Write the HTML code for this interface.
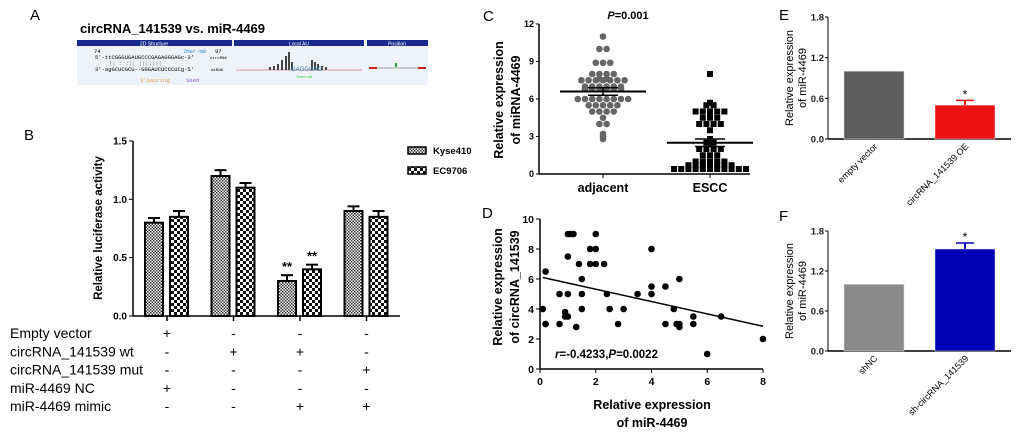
<!DOCTYPE html>
<html><head><meta charset="utf-8"><style>
body{margin:0;background:#fff;}
svg{display:block;font-family:"Liberation Sans",Arial,sans-serif;}
.b{font-weight:bold;}
</style></head><body>
<svg width="1020" height="432" viewBox="0 0 1020 432">
<defs>
<pattern id="pk" width="3" height="3" patternUnits="userSpaceOnUse"><rect width="3" height="3" fill="#fff"/><rect width="1.5" height="1.5" fill="#333"/><rect x="1.5" y="1.5" width="1.5" height="1.5" fill="#333"/></pattern>
<pattern id="pe" width="6" height="6" patternUnits="userSpaceOnUse"><rect width="6" height="6" fill="#fff"/><rect width="3" height="3" fill="#111"/><rect x="3" y="3" width="3" height="3" fill="#111"/></pattern>
</defs>

<g>
<text x="30" y="20" font-size="15">A</text>
<text x="80" y="33" font-size="13" class="b">circRNA_141539 vs. miR-4469</text>
<rect x="77" y="40" width="351" height="45" fill="#eef3fa"/>
<rect x="77" y="40" width="155" height="6" fill="#1a2a8c"/><rect x="234" y="40" width="130" height="6" fill="#1a2a8c"/><rect x="367" y="40" width="61" height="6" fill="#1a2a8c"/>
<text x="154" y="45.5" font-size="5" fill="#fff" text-anchor="middle">2D Structure</text>
<text x="299" y="45.5" font-size="5" fill="#fff" text-anchor="middle">Local AU</text>
<text x="397" y="45.5" font-size="5" fill="#fff" text-anchor="middle">Position</text>
<g font-family="Liberation Mono,monospace" font-size="5.5">
<text x="94" y="53">74</text><text x="183" y="53" fill="#3a8ac8">7mer-m8</text><text x="215" y="53">97</text>
<text x="95" y="59">5'-ttCGGGUGAUGCCCGAGAGGGAGc-3'</text><text x="210" y="59" font-size="4">circRNA</text>
<text x="109" y="65" fill="#888">|| : :||  |||||||</text>
<text x="95" y="71">3'-agGCUCGCU--GGGAUCUCCCUCg-5'</text><text x="211" y="71" font-size="4">miRNA</text>
<text x="140" y="82" fill="#d9a040">3'pairing</text><text x="186" y="82" fill="#8a5ac8">Seed</text>
</g>
<line x1="236" y1="70" x2="362" y2="70" stroke="#d99" stroke-width="1"/>
<path d="M270 70 V67 M274 70 V66 M278 70 V64 M282 70 V60 M286 70 V56 M289 70 V52 M292 70 V62 M312 70 V60 M315 70 V62 M318 70 V64 M322 70 V66 M326 70 V67" stroke="#444" stroke-width="2"/>
<text x="291" y="71" font-size="6" fill="#3a8ac8">GAGGGAG</text>
<text x="296" y="78" font-size="4" fill="#3c3">7mer-m8</text>
<line x1="369" y1="68" x2="426" y2="68" stroke="#bbb" stroke-width="1.5"/>
<rect x="369" y="67" width="8" height="2" fill="#c22"/><rect x="418" y="67" width="8" height="2" fill="#c22"/>
<rect x="395" y="63" width="2" height="4" fill="#2a2"/>
</g>

<g>
<text x="24" y="140" font-size="15">B</text>
<g id="b-chart"></g>
</g>

<g>
<text x="483" y="21" font-size="15">C</text>
<text x="628" y="19" font-size="11" class="b" text-anchor="middle"><tspan font-style="italic">P</tspan>=0.001</text>
<g id="c-chart"></g>
</g>

<g>
<text x="482" y="218" font-size="15">D</text>
<g id="d-chart"></g>
</g>

<g>
<text x="779" y="20" font-size="15">E</text>
<g id="e-chart"></g>
</g>

<g>
<text x="779" y="221" font-size="15">F</text>
<g id="f-chart"></g>
</g>
</svg>
<script>
const NS="http://www.w3.org/2000/svg";
function mk(p,tag,a,txt){const e=document.createElementNS(NS,tag);for(const k in a)e.setAttribute(k,a[k]);if(txt!==undefined)e.textContent=txt;p.appendChild(e);return e;}

const bGroups=["g1","g2","g3","g4"];
const bKyse=[0.80,1.20,0.30,0.90];
const bKyseErr=[0.04,0.05,0.05,0.04];
const bEC=[0.85,1.10,0.40,0.85];
const bECErr=[0.05,0.04,0.04,0.05];
const bSig=["","","**",""];
const bTicks=[0,0.5,1.0,1.5];
const bRowLabels=["Empty vector","circRNA_141539 wt","circRNA_141539 mut","miR-4469 NC","miR-4469 mimic"];
const bSigns=[["+","-","-","-"],["-","+","+","-"],["-","-","-","+"],["+","-","-","-"],["-","-","+","+"]];

const cCats=["adjacent","ESCC"];
const cAdj=[11,10,10,8.9,8.9,8.9,8,8,8,8,7.6,7.5,7.5,7.5,7.5,7.5,7.5,7.5,7.6,7,7,7,7,7,7,6.8,6.8,6.8,6.8,6.8,6.8,6,6,6,6,6,6,6,6,5.5,5.5,5.5,5.5,5.5,5,5,5,5,4.5,4,4,3.2,3,2.8];
const cESCC=[8,5.7,5.5,5.5,5,5,5,5,5,4.8,4.5,4.5,4.5,4,4,4,4,3.5,2.8,2.5,2.5,2,2,2,2,1.5,1.5,1.5,1,1,1,1,1,0.7,0.7,0.7,0.7,0.7,0.7,0.7,0.4,0.4,0.4,0.4,0.4,0.4,0.4,0.4,0.4,0.4,0.4];
const cMeans=[6.6,2.5];
const cSem=[0.3,0.3];
const cTicks=[0,3,6,9,12];

const dX=[0.1,0.2,0.2,0.2,0.7,0.7,0.9,0.9,1,1,1.1,1.2,1,1,1.3,1.4,1.5,1.5,1.5,1.8,1.8,2,2,2,2.3,2.4,2.5,2.8,3,3.5,4,4,4,4.5,4.5,4.8,4.9,5,5,5,5.5,5.5,6,6.5,8];
const dY=[4,3,3,6.5,5,3,3.5,3.8,3.5,9,9,9,7.5,5,2.8,7,6,5,4,8,7,8,9,7,7,5,4,3,4,5,8,5.5,5,5.5,3,4,3,3,2.8,6,3.5,3,1,3.5,2];
const dFit=[[0.1,6.1],[8,2.85]];
const dXTicks=[0,2,4,6,8];
const dYTicks=[0,2,4,6,8,10];

const eCats=["empty vector","circRNA_141539 OE"];
const eVals=[1.0,0.5];
const eErr=[0,0.07];
const fCats=["shNC","sh-circRNA_141539"];
const fVals=[1.0,1.53];
const fErr=[0,0.09];
const efTicks=[0,0.6,1.2,1.8];

(function(){
const g=document.getElementById('b-chart');
const y0=316,y1=141,xL=133,xR=400;
const sy=v=>y0-(v/1.5)*(y0-y1);
const cx=i=>167+i*66.5;
mk(g,'line',{x1:xL,y1:y1,x2:xL,y2:y0,stroke:'#000','stroke-width':1.5});
mk(g,'line',{x1:xL,y1:y0,x2:xR,y2:y0,stroke:'#000','stroke-width':1.5});
bTicks.forEach(t=>{mk(g,'line',{x1:xL-4,y1:sy(t),x2:xL,y2:sy(t),stroke:'#000'});
 const tx=mk(g,'text',{x:xL-6,y:sy(t)+3.5,'font-size':10,'text-anchor':'end','class':'b'},t.toFixed(1));
 });
const yt=mk(g,'text',{x:102,y:228,'font-size':11.5,'text-anchor':'middle','class':'b',transform:'rotate(-90 102 228)'},'Relative luciferase activity');

bGroups.forEach((k,i)=>{
 mk(g,'line',{x1:cx(i),y1:y0,x2:cx(i),y2:y0+5,stroke:'#000','stroke-width':1.5});
 [[bKyse,bKyseErr,'url(#pk)',-13],[bEC,bECErr,'url(#pe)',12]].forEach(([vals,errs,fill,off],s)=>{
  const x=cx(i)+off-9,w=18,v=vals[i];
  mk(g,'line',{x1:x+w/2,y1:sy(v),x2:x+w/2,y2:sy(v+errs[i]),stroke:'#000','stroke-width':2});
  mk(g,'line',{x1:x+3,y1:sy(v+errs[i]),x2:x+w-3,y2:sy(v+errs[i]),stroke:'#000','stroke-width':2});
  const r=mk(g,'rect',{x:x,y:sy(v),width:w,height:y0-sy(v),fill:fill,stroke:'#000','stroke-width':2});
  
  if(bSig[i]){const st=mk(g,'text',{x:x+w/2,y:sy(v+errs[i])-4,'font-size':13,'text-anchor':'middle','class':'b'},bSig[i]);
   }
 });
});
[['url(#pk)','Kyse410',150],['url(#pe)','EC9706',170]].forEach(([f,l,y])=>{
 const le=mk(g,'g',{});
 mk(le,'rect',{x:408,y:y-3,width:18,height:7,fill:f,stroke:'#000','stroke-width':1.5});
 mk(le,'text',{x:433,y:y+4,'font-size':9.5,'class':'b'},l);
});
bRowLabels.forEach((lab,r)=>{
 const y=338+r*18.3;
 const t=mk(g,'text',{x:10,y:y,'font-size':14},lab);
 
 bSigns[r].forEach((s,i)=>{const st=mk(g,'text',{x:cx(i),y:y,'font-size':14,'text-anchor':'middle'},s);
  });
});
})();

(function(){
const g=document.getElementById('c-chart');
const xL=539,xR=750,y0=174,y1=24;
const sy=v=>y0-(v/12)*(y0-y1);
const cxs=[603,710];
mk(g,'line',{x1:xL,y1:y1,x2:xL,y2:y0,stroke:'#000','stroke-width':1.5});
mk(g,'line',{x1:xL,y1:y0,x2:xR,y2:y0,stroke:'#000','stroke-width':1.5});
cTicks.forEach(t=>{mk(g,'line',{x1:xL-3,y1:sy(t),x2:xL,y2:sy(t),stroke:'#000'});
 const tx=mk(g,'text',{x:xL-5,y:sy(t)+3,'font-size':9,'text-anchor':'end','class':'b'},t);
 });
const yt=mk(g,'text',{x:0,y:0,'font-size':12.5,'text-anchor':'middle','class':'b',transform:'translate(513 100) rotate(-90)'});

mk(yt,'tspan',{x:0,dy:-10},'Relative expression');mk(yt,'tspan',{x:0,dy:17},'of miRNA-4469');
cCats.forEach((c,i)=>{mk(g,'line',{x1:cxs[i],y1:y0,x2:cxs[i],y2:y0+4,stroke:'#000'});
 const t=mk(g,'text',{x:cxs[i],y:192,'font-size':12.5,'text-anchor':'middle','class':'b'},c);
 });
function swarm(vals,cx,shape,fill,name){
 const groups={};vals.forEach(v=>{const k=String(v);(groups[k]=groups[k]||[]).push(v);});
 Object.values(groups).forEach(arr=>{
  const sp=Math.min(7.2,84/Math.max(1,arr.length-1));
  arr.forEach((v,j)=>{
  const x=cx+(j-(arr.length-1)/2)*sp;
  let el;
  if(shape==='c')el=mk(g,'circle',{cx:x,cy:sy(v),r:3.3,fill:fill});
  else el=mk(g,'rect',{x:x-3,y:sy(v)-3,width:6,height:6,fill:fill});
  });});
}
swarm(cAdj,cxs[0],'c','#666','point-adjacent');
swarm(cESCC,cxs[1],'s','#000','point-escc');
cMeans.forEach((m,i)=>{
 const ml=mk(g,'line',{x1:cxs[i]-43,y1:sy(m),x2:cxs[i]+43,y2:sy(m),stroke:'#000','stroke-width':2});
 
 mk(g,'line',{x1:cxs[i]-15,y1:sy(m+cSem[i]),x2:cxs[i]+15,y2:sy(m+cSem[i]),stroke:'#000','stroke-width':1.5});
 mk(g,'line',{x1:cxs[i]-15,y1:sy(m-cSem[i]),x2:cxs[i]+15,y2:sy(m-cSem[i]),stroke:'#000','stroke-width':1.5});
 mk(g,'line',{x1:cxs[i],y1:sy(m+cSem[i]),x2:cxs[i],y2:sy(m-cSem[i]),stroke:'#000','stroke-width':1.5});
});
})();

(function(){
const g=document.getElementById('d-chart');
const xL=540,xR=763,y0=369,y1=219;
const sx=v=>xL+(v/8)*(xR-xL), sy=v=>y0-(v/10)*(y0-y1);
mk(g,'line',{x1:xL,y1:y1,x2:xL,y2:y0,stroke:'#000','stroke-width':1.5});
mk(g,'line',{x1:xL,y1:y0,x2:xR,y2:y0,stroke:'#000','stroke-width':1.5});
dYTicks.forEach(t=>{mk(g,'line',{x1:xL-4,y1:sy(t),x2:xL,y2:sy(t),stroke:'#000'});
 const tx=mk(g,'text',{x:xL-6,y:sy(t)+4,'font-size':10.5,'text-anchor':'end','class':'b'},t);
 });
dXTicks.forEach(t=>{mk(g,'line',{x1:sx(t),y1:y0,x2:sx(t),y2:y0+4,stroke:'#000'});
 const tx=mk(g,'text',{x:sx(t),y:y0+16,'font-size':10.5,'text-anchor':'middle','class':'b'},t);
 });
const yt=mk(g,'text',{x:0,y:0,'font-size':12.5,'text-anchor':'middle','class':'b',transform:'translate(512 287) rotate(-90)'});

mk(yt,'tspan',{x:0,dy:-10},'Relative expression');mk(yt,'tspan',{x:0,dy:17},'of circRNA_141539');
const xt=mk(g,'text',{x:0,y:0,'font-size':12.5,'text-anchor':'middle','class':'b',transform:'translate(652 409)'});

mk(xt,'tspan',{x:0,dy:0},'Relative expression');mk(xt,'tspan',{x:0,dy:18},'of miR-4469');
const fl=mk(g,'line',{x1:sx(dFit[0][0]),y1:sy(dFit[0][1]),x2:sx(dFit[1][0]),y2:sy(dFit[1][1]),stroke:'#000','stroke-width':1.5});

dX.forEach((x,i)=>{const c=mk(g,'circle',{cx:sx(x),cy:sy(dY[i]),r:3.3,fill:'#000'});
 });
const rt=mk(g,'text',{x:555,y:358,'font-size':11.5,'class':'b'});

mk(rt,'tspan',{'font-style':'italic'},'r');mk(rt,'tspan',{},'=-0.4233,');mk(rt,'tspan',{'font-style':'italic'},'P');mk(rt,'tspan',{},'=0.0022');
})();

function barPanel(id,cats,vals,errs,colors,y0,y1,pfx){
 const g=document.getElementById(id);
 const xL=828,xR=1011;
 const sy=v=>y0-(v/1.8)*(y0-y1);
 const bx=[844,935],w=60;
 mk(g,'line',{x1:xL,y1:y1,x2:xL,y2:y0,stroke:'#000','stroke-width':1});
 mk(g,'line',{x1:xL,y1:y0,x2:xR,y2:y0,stroke:'#000','stroke-width':1.5});
 efTicks.forEach(t=>{mk(g,'line',{x1:xL-3,y1:sy(t),x2:xL,y2:sy(t),stroke:'#000'});
  const tx=mk(g,'text',{x:xL-4,y:sy(t)+3.5,'font-size':9.5,'text-anchor':'end','class':'b','fill':'#222'},t.toFixed(1));
  });
 const ym=(y0+y1)/2;
 const yt=mk(g,'text',{x:0,y:0,'font-size':11,'text-anchor':'middle',transform:'translate(799 '+ym+') rotate(-90)'});
 
 mk(yt,'tspan',{x:0,dy:-6},'Relative expression');mk(yt,'tspan',{x:0,dy:13},'of miR-4469');
 cats.forEach((c,i)=>{
  const v=vals[i],x=bx[i];
  if(errs[i]>0){mk(g,'line',{x1:x+w/2,y1:sy(v),x2:x+w/2,y2:sy(v+errs[i]),stroke:colors[i],'stroke-width':2});
   mk(g,'line',{x1:x+w/2-9,y1:sy(v+errs[i]),x2:x+w/2+9,y2:sy(v+errs[i]),stroke:colors[i],'stroke-width':1.5});
   const st=mk(g,'text',{x:x+w/2,y:sy(v+errs[i])-2,'font-size':12,'text-anchor':'middle'},'*');
   }
  const r=mk(g,'rect',{x:x,y:sy(v),width:w,height:y0-sy(v),fill:colors[i],stroke:'#ddd','stroke-width':0.5});
  
  const cx=x+w/2+4;
  const t=mk(g,'text',{x:cx,y:y0+8,'font-size':9,'text-anchor':'end',transform:'rotate(-45 '+cx+' '+(y0+8)+')'},c);
  
 });
}
barPanel('e-chart',eCats,eVals,eErr,['#5e5e5e','#ee1111'],139,17,'e');
barPanel('f-chart',fCats,fVals,fErr,['#8a8a8a','#0000b4'],351,231,'f');
</script>
</body></html>
